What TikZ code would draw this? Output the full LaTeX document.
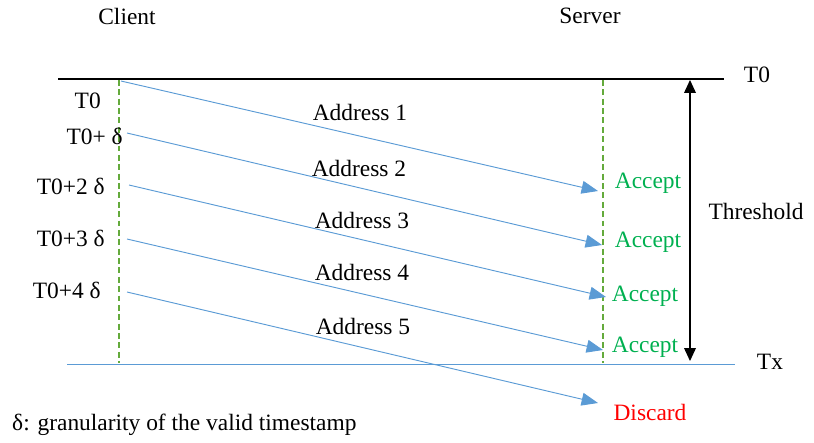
\documentclass[tikz,border=0pt]{standalone}
\usepackage{fontspec}
\setmainfont{Liberation Serif}
\usetikzlibrary{arrows.meta}

\definecolor{msgblue}{RGB}{91,155,213}
\definecolor{okgreen}{RGB}{0,176,80}
\definecolor{lifegreen}{RGB}{100,170,60}

\begin{document}
\begin{tikzpicture}[x=0.03cm,y=-0.03cm,
        every node/.style={font=\fontsize{20}{24}\selectfont, inner sep=0pt},
        lifeline/.style={draw=lifegreen, line width=1pt, dash pattern=on 5pt off 3pt},
        msg/.style={draw=msgblue, line width=0.8pt, -{Triangle[length=14pt,width=11pt]}},
        verdict/.style={text=okgreen}
    ]
    \useasboundingbox (0,0) rectangle (814,442);

    % headers
    \node(client) at (127,16) {Client};
    \node(server) at (590,16) {Server};

    % time axis
    \coordinate (topL) at (58,79);
    \coordinate (topR) at (724,79);
    \coordinate (botL) at (67,364);
    \coordinate (botR) at (735,364);
    \draw[black, line width=0.9pt] (topL) -- (topR);
    \draw[msgblue, line width=0.8pt] (botL) -- (botR);
    \node(t0) at (757,75) {T0};
    \node(tx) at (770,362) {Tx};

    % lifelines
    \coordinate (cTop) at (119,80);
    \coordinate (cBot) at (119,363);
    \coordinate (sTop) at (603,80);
    \coordinate (sBot) at (603,363);
    \draw[lifeline] (cTop) -- (cBot);
    \draw[lifeline] (sTop) -- (sBot);

    % threshold
    \coordinate (thTop) at (690,80);
    \coordinate (thBot) at (690,361);
    \draw[black, line width=0.9pt, {Triangle[length=11pt,width=10pt]}-{Triangle[length=11pt,width=10pt]}] (thTop) -- (thBot);
    \node(thr) at (756,211) {Threshold};

    % send times
    \node(s0)[anchor=east] at (101,101) {T0};
    \node(s1)[anchor=east] at (123,136) {T0+ δ};
    \node(s2)[anchor=east] at (105,186) {T0+2 δ};
    \node(s3)[anchor=east] at (105,238) {T0+3 δ};
    \node(s4)[anchor=east] at (101,290) {T0+4 δ};

    % messages
    \coordinate (a1) at (121,81);  \coordinate (b1) at (598,191);
    \coordinate (a2) at (127,133); \coordinate (b2) at (602,245);
    \coordinate (a3) at (129,185); \coordinate (b3) at (606,297);
    \coordinate (a4) at (127,239); \coordinate (b4) at (603,350);
    \coordinate (a5) at (127,292); \coordinate (b5) at (598,403);
    \draw[msg] (a1) -- (b1);
    \draw[msg] (a2) -- (b2);
    \draw[msg] (a3) -- (b3);
    \draw[msg] (a4) -- (b4);
    \draw[msg] (a5) -- (b5);

    \node(m1) at (360,112) {Address 1};
    \node(m2) at (359,168) {Address 2};
    \node(m3) at (362,220) {Address 3};
    \node(m4) at (362,272) {Address 4};
    \node(m5) at (363,326) {Address 5};

    % results
    \node(r1)[verdict] at (648,183) {Accept};
    \node(r2)[verdict] at (648,242) {Accept};
    \node(r3)[verdict] at (645,296) {Accept};
    \node(r4)[verdict] at (645,347) {Accept};
    \node(r5)[text=red] at (650,412) {Discard};

    \node(note)[anchor=west] at (12,425) {δ: granularity of the valid timestamp};
\end{tikzpicture}
\end{document}
